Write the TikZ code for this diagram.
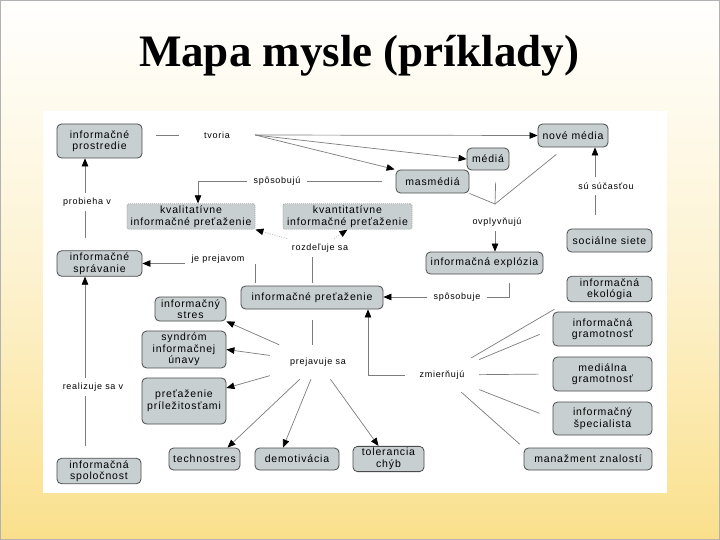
\documentclass[tikz,border=0pt]{standalone}
\usepackage{fontspec}
\setsansfont[LetterSpace=8]{Liberation Sans}
\newfontfamily\titlefont{Liberation Serif}
\usepackage{xcolor}
\usepackage{tikz}
\usetikzlibrary{arrows.meta,calc,positioning}

\definecolor{slideyellow}{RGB}{250,224,140}
\definecolor{boxfill}{RGB}{199,207,209}
\definecolor{boxline}{RGB}{75,75,75}
\definecolor{linkgray}{RGB}{125,125,125}

\tikzset{
  concept/.style={draw=boxline, fill=boxfill, rounded corners=4.5pt, align=center,
    font=\sffamily\fontsize{10.5}{11.5}\selectfont, inner sep=2pt, line width=0.8pt},
  dotconcept/.style={concept, draw=gray!70, dash pattern=on 1pt off 1pt, rounded corners=2pt},
  linkword/.style={font=\sffamily\fontsize{9}{10}\selectfont, inner xsep=6pt, inner ysep=5pt},
  link/.style={draw=linkgray, line width=0.7pt},
  arrow/.style={link, -{Triangle[length=8pt,width=6.5pt,color=black]}},
  dotarrow/.style={arrow, draw=gray!50, dash pattern=on 1.2pt off 1.2pt}
}

\begin{document}
\begin{tikzpicture}[x=1pt,y=-1pt]
  % slide background
  \shade[top color=white, bottom color=slideyellow, middle color=white!60!slideyellow]
    (0,0) rectangle (720,540);
  \draw[gray!60] (0.5,0.5) rectangle (719.5,539.5);
  \node[font=\titlefont\bfseries\fontsize{45}{50}\selectfont] (title) at (359,56) {Mapa mysle (príklady)};
  \fill[white] (43,111) rectangle (667,493);

  % concepts
  \node[concept, minimum width=85, minimum height=34] (prostredie) at (99.5,141) {informačné\\prostredie};
  \node[dotconcept, minimum width=128, minimum height=23] (kvalit) at (191,216.5) {kvalitatívne\\informačné preťaženie};
  \node[dotconcept, minimum width=129, minimum height=23] (kvantit) at (347.5,216.5) {kvantitatívne\\informačné preťaženie};
  \node[concept, minimum width=85, minimum height=23] (spravanie) at (99.5,263.5) {informačné\\správanie};
  \node[concept, minimum width=142, minimum height=23] (pretazenie) at (312,297.5) {informačné preťaženie};
  \node[concept, minimum width=71, minimum height=24] (stres) at (190.5,309) {informačný\\stres};
  \node[concept, minimum width=84, minimum height=35] (syndrom) at (184,349.5) {syndróm\\informačnej\\únavy};
  \node[concept, minimum width=84, minimum height=46] (prilez) at (184,401) {preťaženie\\príležitosťami};
  \node[concept, minimum width=84, minimum height=22] (spolocnost) at (99,471) {informačná\\spoločnost};
  \node[concept, minimum width=71, minimum height=22] (techno) at (204.5,459) {technostres};
  \node[concept, minimum width=84, minimum height=22] (demot) at (297,459) {demotivácia};
  \node[concept, minimum width=71, minimum height=22] (toler) at (388.5,459) {tolerancia\\chýb};
  \node[concept, minimum width=128, minimum height=22] (manazment) at (588,459) {manažment znalostí};
  \node[concept, minimum width=99, minimum height=33] (specialista) at (602.5,418.5) {informačný\\špecialista};
  \node[concept, minimum width=99, minimum height=34] (medialna) at (602.5,374) {mediálna\\gramotnosť};
  \node[concept, minimum width=99, minimum height=34] (infgram) at (602.5,329) {informačná\\gramotnosť};
  \node[concept, minimum width=85, minimum height=22] (ekologia) at (609.5,289) {informačná\\ekológia};
  \node[concept, minimum width=85, minimum height=23] (socialne) at (609.5,240.5) {sociálne siete};
  \node[concept, minimum width=117, minimum height=22] (explozia) at (484.5,263) {informačná explózia};
  \node[concept, minimum width=73, minimum height=23] (masmedia) at (432.5,181.5) {masmédiá};
  \node[concept, minimum width=42, minimum height=22] (media) at (488,159) {médiá};
  \node[concept, minimum width=70, minimum height=23] (nove) at (573,135.5) {nové média};

  % linking words
  \node[linkword, minimum width=76] (tvoria) at (217,135) {tvoria};
  \node[linkword] (sposobuju) at (277,181) {spôsobujú};
  \node[linkword] (probieha) at (87,202) {probieha v};
  \node[linkword] (jeprejavom) at (218,259) {je prejavom};
  \node[linkword] (rozdeluje) at (320,248) {rozdeľuje sa};
  \node[linkword] (ovplyvnuju) at (497,222) {ovplyvňujú};
  \node[linkword] (sucastou) at (606,186) {sú súčasťou};
  \node[linkword] (sposobuje) at (457,297) {spôsobuje};
  \node[linkword, minimum width=96, minimum height=34] (prejavuje) at (318,362) {prejavuje sa};
  \node[linkword, minimum width=74, minimum height=34] (zmiernuju) at (442,375) {zmierňujú};
  \node[linkword] (realizuje) at (93,387) {realizuje sa v};

  % helper points
  \coordinate (leftcol) at (85,0);
  \coordinate (sucol) at (595,0);
  \coordinate (jeturn) at (255,264);
  \coordinate (ovjoin) at (495,204);

  % connectors
  \draw[link, shorten <=14pt] (prostredie.east |- tvoria) -- (tvoria.west);
  \draw[arrow] (tvoria.east) -- (nove.west);
  \draw[arrow] (tvoria.east) -- (media.west);
  \draw[arrow, shorten >=1pt] (tvoria.east) -- (masmedia.north west);

  \draw[link, shorten <=14pt] (masmedia.west |- sposobuju) -- (sposobuju.east);
  \draw[arrow] (sposobuju.west) -| ([xshift=7pt]kvalit.north);

  \draw[link, shorten <=12pt] (leftcol |- spravanie.north) -- (leftcol |- probieha.south);
  \draw[arrow] (leftcol |- probieha.north) -- (leftcol |- prostredie.south);
  \draw[link, shorten <=12pt] (leftcol |- spolocnost.north) -- (leftcol |- realizuje.south);
  \draw[arrow] (leftcol |- realizuje.north) -- (leftcol |- spravanie.south);

  \draw[link, shorten <=3pt] (jeturn |- pretazenie.north) -- (jeturn);
  \draw[arrow] (jeprejavom.west |- spravanie.east) -- (spravanie.east);

  \draw[link, shorten <=3pt] (pretazenie.north) -- (pretazenie.north |- rozdeluje.south);
  \draw[dotarrow] (rozdeluje) -- (kvalit.south east);
  \draw[dotarrow] (rozdeluje) -- (kvantit.south);

  \draw[link] (masmedia.south east) -- (ovjoin);
  \draw[link, shorten <=12pt] ([xshift=8pt]media.south) -- (ovjoin);
  \draw[link, shorten <=11pt] ([xshift=-8pt]nove.south) -- (ovjoin);
  \draw[arrow] (ovplyvnuju.south -| ovjoin) -- (ovjoin |- explozia.north);

  \draw[link, shorten <=14pt] (sucol |- socialne.north) -- (sucol |- sucastou.south);
  \draw[arrow] (sucol |- sucastou.north) -- (sucol |- nove.south);

  \draw[link, shorten <=9pt] ([xshift=24.5pt]explozia.south) |- (sposobuje.east);
  \draw[arrow] (sposobuje.west) -- (pretazenie.east |- sposobuje.west);

  \draw[link, shorten <=11pt] (pretazenie.south) -- (pretazenie.south |- prejavuje.north);
  \draw[arrow] (prejavuje) -- (stres.south east);
  \draw[arrow] (prejavuje) -- (syndrom.east);
  \draw[arrow] (prejavuje) -- ([yshift=13pt]prilez.east);
  \draw[arrow] (prejavuje) -- ([xshift=23pt]techno.north);
  \draw[arrow] (prejavuje) -- ([xshift=-14pt]demot.north);
  \draw[arrow] (prejavuje) -- ([xshift=-10pt]toler.north);

  \draw[link, shorten <=14pt] (ekologia.south west) -- (zmiernuju);
  \draw[link, shorten <=14pt] (infgram.west) -- (zmiernuju);
  \draw[link, shorten <=14pt] (medialna.west) -- (zmiernuju);
  \draw[link, shorten <=14pt] (specialista.west) -- (zmiernuju);
  \draw[link, shorten <=5pt] (manazment.north west) -- (zmiernuju);
  \draw[arrow] (zmiernuju.west) -| ([xshift=56pt]pretazenie.south);
\end{tikzpicture}
\end{document}
